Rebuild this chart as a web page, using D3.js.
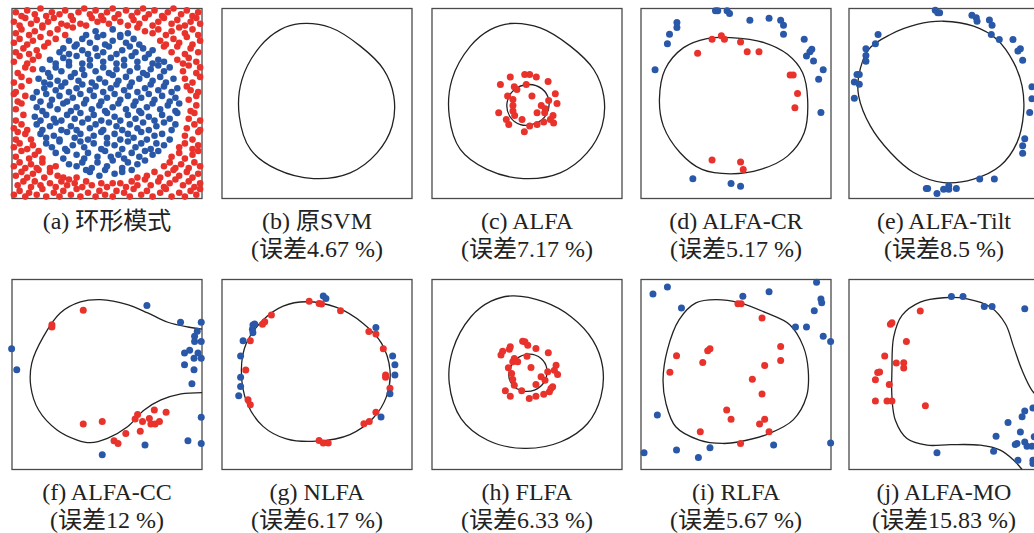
<!DOCTYPE html>
<html>
<head>
<meta charset="utf-8">
<script src="https://cdn.jsdelivr.net/npm/d3@7"></script>
<style>
body { margin: 0; background: #fff; }
svg text { font-family: "Liberation Serif", "Noto Sans CJK SC", serif; font-size: 24px; fill: #222; }
</style>
</head>
<body>
<svg width="1034" height="533"></svg>
<script>
// all coords are 0..100 inside each panel, y pointing up

// (a) ring pattern: red outside, blue inside
const aRed = [
  1,2, 4,4, 7,1, 9,3, 13,2, 16,5, 18,1, 22,3, 25,1, 27,4, 31,2, 34,5, 36,1, 40,3, 44,1, 46,4, 49,2, 53,1, 55,4, 59,3, 62,1, 64,5, 68,2, 71,4, 74,1, 78,3, 81,5, 84,1, 88,3, 91,1, 94,4, 97,2, 99,5,
  3,7, 6,9, 10,6, 12,9, 15,7, 20,8, 23,6, 26,9, 29,7, 33,8, 37,6, 39,9, 42,7, 47,8, 50,6, 53,8, 57,8, 60,6, 63,9, 66,7, 70,10, 73,7, 77,9, 80,6, 83,8, 86,10, 90,7, 93,9, 96,6, 99,8,
  2,12, 5,14, 8,11, 11,13, 14,15, 17,11, 20,14, 24,12, 27,11, 30,10, 34,11, 66,11, 71,12, 75,14, 78,11, 82,13, 85,15, 88,12, 92,14, 95,11, 98,13,
  1,17, 4,19, 7,16, 10,18, 13,16, 16,19, 20,16, 23,17, 80,17, 83,19, 86,16, 89,18, 93,16, 96,19, 99,17,
  2,22, 5,25, 9,21, 12,23, 16,21, 84,22, 88,24, 91,21, 95,23, 98,25,
  1,27, 4,29, 8,26, 11,28, 14,25, 88,27, 91,29, 95,26, 98,28,
  2,31, 7,34, 10,31, 3,35, 91,33, 95,31, 98,35,
  1,37, 5,39, 8,36, 92,37, 96,39, 99,36,
  2,41, 6,44, 93,42, 96,45, 99,41,
  2,47, 5,50, 94,46, 97,49,
  3,51, 7,54, 1,55, 93,52, 97,54,
  2,56, 5,59, 94,57, 98,56, 92,59,
  1,61, 5,64, 9,62, 91,63, 95,61, 99,64,
  3,66, 7,69, 11,68, 90,67, 93,70, 97,66, 99,69,
  1,72, 4,75, 8,71, 11,73, 14,75, 87,73, 90,71, 93,74, 97,72,
  2,77, 6,79, 9,76, 13,78, 17,80, 80,80, 84,77, 87,80, 91,76, 94,79, 98,77,
  1,82, 4,84, 8,81, 11,83, 15,85, 19,82, 23,84, 78,83, 81,81, 85,84, 88,82, 92,85, 95,81, 99,83,
  2,87, 5,89, 9,86, 12,88, 16,90, 20,87, 24,89, 28,86, 32,90, 66,90, 70,88, 74,87, 77,89, 81,86, 84,88, 88,90, 91,87, 95,89, 98,86,
  1,93, 4,91, 7,95, 10,92, 13,94, 16,91, 19,93, 22,95, 26,92, 29,91, 32,94, 36,92, 39,91, 42,95, 45,93, 48,94, 51,92, 54,95, 57,93, 61,91, 64,94, 67,92, 70,95, 74,91, 77,93, 80,95, 84,92, 87,94, 91,91, 94,93, 97,95, 99,92,
  2,98, 5,96, 8,99, 12,97, 15,100, 18,96, 21,98, 25,97, 28,99, 31,96, 35,98, 38,100, 41,97, 44,99, 47,96, 50,98, 53,100, 56,97, 60,99, 63,96, 66,98, 69,100, 72,97, 75,99, 79,96, 82,98, 85,100, 89,97, 92,99, 95,96, 98,98
];
const aBlue = [
  41,14, 46,12, 49,15, 54,13, 58,14, 63,15,
  30,18, 34,17, 37,19, 39,15, 42,16, 45,19, 50,17, 53,20, 58,16, 61,19, 66,18, 70,20,
  23,24, 27,21, 29,25, 34,23, 38,21, 40,24, 45,22, 49,25, 52,22, 56,23, 59,21, 63,24, 67,22, 70,25, 74,23, 77,25,
  18,29, 21,27, 25,30, 28,26, 32,28, 36,30, 38,27, 43,29, 47,26, 50,29, 54,28, 58,26, 61,30, 65,27, 68,29, 73,26, 76,29, 80,28,
  15,34, 18,32, 22,33, 25,31, 29,35, 33,32, 36,34, 40,31, 43,33, 47,35, 50,32, 54,34, 57,31, 61,34, 64,32, 68,35, 71,31, 75,33, 79,34, 83,31,
  13,39, 16,36, 20,38, 23,40, 26,36, 31,38, 34,36, 37,40, 41,37, 44,39, 48,36, 51,40, 55,38, 58,36, 62,39, 66,37, 69,40, 72,36, 76,38, 80,40, 84,36, 86,39,
  12,43, 15,41, 18,44, 22,42, 26,41, 29,44, 33,42, 36,45, 40,42, 43,44, 47,41, 50,45, 54,43, 57,41, 61,44, 65,42, 68,45, 72,43, 75,41, 79,44, 83,42, 87,45,
  13,48, 16,46, 20,49, 24,47, 27,50, 31,46, 34,48, 38,50, 42,47, 46,49, 49,46, 53,48, 56,50, 60,47, 64,49, 67,46, 71,48, 74,50, 78,47, 82,49, 86,46, 88,50,
  11,53, 15,51, 18,55, 21,52, 25,54, 29,51, 32,53, 36,55, 39,52, 43,54, 47,51, 50,53, 54,55, 57,52, 61,54, 65,51, 68,53, 72,55, 75,52, 79,54, 83,51, 86,53,
  13,56, 17,58, 20,60, 23,57, 26,59, 30,56, 34,58, 37,60, 41,57, 44,59, 48,56, 52,58, 55,60, 59,57, 62,59, 66,56, 70,58, 73,60, 77,57, 80,59, 84,56, 87,58,
  14,63, 17,61, 20,64, 24,62, 28,61, 31,64, 35,62, 38,65, 42,61, 46,63, 49,61, 53,65, 56,62, 60,64, 63,61, 67,63, 71,65, 74,62, 78,64, 81,61, 85,63,
  16,68, 19,66, 23,69, 26,67, 30,70, 33,66, 37,68, 41,70, 44,67, 48,69, 51,66, 55,68, 59,70, 62,67, 66,69, 69,66, 73,68, 77,70, 80,67, 83,69,
  20,73, 23,71, 27,74, 30,72, 34,75, 37,71, 41,73, 45,75, 48,72, 52,74, 55,71, 59,73, 63,75, 66,72, 70,74, 74,71, 77,73, 80,72,
  25,77, 27,79, 30,76, 33,80, 37,78, 40,76, 44,79, 48,77, 51,80, 55,76, 58,78, 62,80, 65,77, 69,79, 72,76, 74,78,
  30,83, 34,81, 37,84, 41,82, 45,85, 49,81, 53,83, 57,85, 60,82, 64,84, 67,81,
  39,86, 44,88, 48,86, 53,89, 57,86, 61,87
];

// (b) original SVM boundary
const bCurve = [41,92, 57,90, 72.8,80.2, 85,68, 90.4,54, 89.5,38, 81.6,24, 67.5,13.5, 48.2,10.5, 29,15.3, 15,25.8, 9.1,43.3, 10.5,62.6, 20.2,80.2, 30.7,88.9];

// (c) ALFA
const cRed = [36,60, 41.2,63.9, 48.8,65.3, 51.4,65.3, 54.9,63.9, 61.1,61.6, 43.3,58.8, 44.7,57.4, 49.6,60, 39.8,53.9, 42.6,52.1, 52.6,53.9, 64.9,55.1, 65.8,50, 61.4,51.6, 57.5,48.9, 59.6,47.2, 42.6,48.9, 42.6,46, 35.1,45.1, 43.5,43.7, 47.4,41.6, 39.1,41.6, 40.4,38.9, 55.3,45.1, 63.7,43.7, 62.3,41.6, 58.8,40.2, 55.3,38.9, 51.4,38.1, 48.6,35.1, 64,39.8, 59.3,45.1];
const cOuter = [41.2,92.1, 57,89.8, 72.8,80.2, 85.1,67.9, 90.4,53.9, 89.5,38.1, 81.6,24, 67.5,13.5, 48.2,10.5, 28.9,15.3, 14.9,25.8, 9.1,43.3, 10.5,62.6, 20.2,80.2, 30.7,88.9];
const cInner = [50.9,60, 57.9,57.7, 61.4,52.1, 60.2,44.2, 54.4,39.5, 46.5,38.9, 40.9,43.3, 39.5,50.4, 43,57];

// (d) ALFA-CR
const dRed = [37.4,83.8, 42.3,85.6, 43.9,83.8, 52.4,82.4, 29.8,76.4, 55.9,77.3, 62.1,77.3, 78.5,65, 80.1,65, 82.4,55.2, 81,47.8, 37.4,20.2, 52.4,19.2, 53.8,15.3];
const dBlue = [39.2,98.8, 40.4,98.8, 45.3,98.8, 46.6,97.4, 18.9,92.6, 18.9,90, 15,86.5, 13.9,81.5, 7.4,67.7, 57.3,93.8, 67.4,94.9, 73.5,93.8, 75,91.2, 75,86.5, 85.9,83.8, 89.9,78.6, 88.9,77.2, 87.1,75, 90.8,72.4, 95.9,67.7, 93.5,62.7, 94.7,45.2, 27.3,10.4, 47.4,7.9, 52.4,6.5];
const dCurve = [47.1,84.7, 64.7,82.1, 77.1,75.9, 85,66.3, 87.7,52.2, 85.9,34.6, 77.1,22.3, 63,15.3, 47.1,13, 32.1,15.3, 20.6,24.1, 11.8,38.1, 9.7,52.2, 12.7,68, 22.4,79.4, 34.7,84.2];

// (e) ALFA-Tilt
const eBlue = [45.4,99.1, 46.7,97.7, 47.7,97.7, 64.7,96.5, 67,95.1, 67.4,93.3, 73.9,93.9, 75.3,91.2, 74.9,86.3, 79.1,83.7, 86.3,83.7, 90.2,78.8, 88.9,77.6, 91.4,72.7, 15.3,86.3, 13.9,81.4, 8.9,78.8, 8.9,75.3, 8.9,72.3, 4.2,65.3, 5.4,65.3, 2.8,61.3, 5.4,60.1, 2.8,52.7, 96.3,58.8, 96.3,52.5, 95.1,45.2, 92.5,31.5, 91.4,27.7, 91.4,23.8, 68.8,10.2, 76.5,10.2, 40.7,5.3, 41.4,5.3, 46.3,2.6, 49.8,4.9, 52.5,6.7, 52.5,4.9, 56.5,5.3];
const eCurve = [49.8,93.3, 65.6,90.7, 77.9,83.7, 86.7,71.5, 91.1,59.2, 91.9,45.2, 88.4,29.4, 79.6,17.2, 65.6,10.2, 49.8,8.4, 34,13.7, 21.8,24.2, 11.2,38.2, 5.1,53.9, 5.1,64.4, 10.4,78.5, 21.8,86.3, 35.8,91.6];

// (f) ALFA-CC, boundary leaves through the right edge
const fRed = [37.5,83.8, 21,76.2, 21,75, 37.5,23.9, 47.5,25.2, 53.7,15.1, 55.8,13.7, 59.9,19, 67.5,20.1, 64.8,26.6, 66.1,29, 68.7,25.2, 72.3,26.9, 74.9,31.3, 73.1,23.9, 75.3,23.9, 77.6,25.2, 81.1,30.1];
const fBlue = [71,86.3, 88.7,77.5, 99.6,77.5, 97.5,72.7, 96.1,70.1, 96.1,67.4, 99.6,67.4, 93.5,62.7, 90.8,61.3, 97.9,61.3, 99.6,58.6, 95.8,58.6, 90.8,55.1, 95.8,52.5, 94.7,45.1, 99.6,27.5, 99.6,13.7, 92.6,15.1, 70,12.9, 47.5,7.7, -0.2,63.6, 2.5,52.5];
const fCurve = [100,73.9, 92.6,75, 82,77.5, 71.4,82.4, 60.8,86.8, 46.6,89.4, 36,88.2, 25.4,82.4, 16.6,70.1, 10.4,56, 9.9,43.7, 14,31.3, 23.7,20.8, 34.3,15.5, 41.3,14.1, 50.2,16.4, 60.8,22.5, 69.6,31.3, 78.4,36.6, 89,39.8, 100,40.5];

// (g) NLFA
const gRed = [45.9,88.6, 51.1,87.4, 52.4,87.1, 62.4,83.6, 26,81.3, 22.5,77.8, 21.3,76.4, 14.9,67.7, 12.5,52.4, 13.7,36.7, 14.9,34.1, 77.3,72.6, 81,71.3, 84.9,63.5, 86.1,49.8, 86.1,48.6, 88.4,42.8, 81,30.1, 77.5,25.3, 74.7,24.1, 51.1,15.2, 53.3,14, 55.9,14];
const gBlue = [53.3,91.3, 54.7,90, 81,74.8, 16.3,76, 17.2,76.6, 16,73.8, 16.3,72, 11.1,67.7, 9.8,59.8, 9.8,48.6, 9.8,43.7, 8.8,38.8, 89.8,59.8, 91,55.1, 91,49.8, 88.4,39.9, 83.7,27.6];
const gCurve = [44.5,88.3, 60.3,85.3, 74.3,76.9, 84,66.4, 88.4,52.4, 86.6,38.5, 79.6,27.1, 67.3,18.4, 49.7,14.9, 33.9,16.1, 21.6,22.7, 13.2,35, 10.2,52.4, 12.8,66.4, 21.6,78.7, 32.2,86];

// (h) FLFA
const hRed = [36.3,60.2, 37.2,62.3, 41.2,64.6, 40.7,63.3, 47.7,67.5, 48.9,67.2, 50.4,65.4, 54.7,63.7, 61.2,61.4, 43.3,58.4, 42.5,56.7, 45.1,56.7, 50,59.6, 40.2,53.5, 52.1,53.7, 65.3,54.9, 64.4,52.3, 66.1,50, 60.9,51.4, 57.4,48.8, 59.5,47, 41.9,50.5, 42.5,47.4, 43.3,44.4, 38.6,41.4, 41.2,38.6, 47.2,41.4, 54.7,44.7, 63.5,43.5, 61.8,40.9, 58.8,39.6, 54.7,38.6, 51.2,37.4, 62.6,42.6];
const hOuter = [42.5,91.4, 59.1,88.2, 73.2,80.4, 84.6,68.1, 89.8,54, 88.9,38.2, 81.9,24.2, 67.9,14.6, 48.6,11.1, 29.3,15.4, 15.3,26.8, 9.1,45.3, 10.9,62.8, 20.5,80.4, 31.1,88.6];
const hInner = [51.2,60.7, 57.4,58.4, 60.4,53.2, 59.1,46.1, 53.9,41.8, 47.7,41.4, 42.5,44.4, 40.4,50.5, 44.2,57.9];

// (i) RLFA
const iRed = [51,87.3, 52.7,87.3, 63.7,79.8, 73.5,64.8, 73.5,57.4, 36.3,63.6, 35.1,62.5, 32.5,56.3, 18.7,59.9, 15.2,51.2, 65.1,54.8, 58.6,47.5, 63.7,39.8, 45.1,31.3, 47.4,26.4, 65.1,26.4, 62.4,23.9, 67.4,19.9, 31.2,19.9, 52.4,13.7];
const iBlue = [92.4,98.6, 6.3,92.4, 13.9,96.1, 53.6,91.2, 67.4,93.5, 21.3,85, 94.7,89.8, 95.1,87.7, 91.2,83.6, 81.3,75, 87.1,75, 95.9,70.1, 99.8,67.4, 8.6,28.7, 1.6,8.8, 18.7,10.2, 30.2,6.3, 36.3,11.4, 69.8,12.9, 99.8,13.9];
const iCurve = [39.5,89.4, 51.9,87.7, 66,82.4, 78.3,76.2, 85.4,64.8, 88,52.5, 87.1,38.4, 80.1,26.1, 67.7,19, 51.9,14.6, 43,13.7, 30.7,15.5, 18.3,22.5, 13.1,34.9, 11.6,47.2, 13.9,63, 20.1,78.9, 28.9,87.7];

// (j) ALFA-MO, boundary runs off the bottom and right
const jRed = [37.5,83.4, 21.8,76.4, 22.6,77.2, 30.2,67.4, 18.8,59.7, 24.9,56, 28.8,56.2, 28.8,53.4, 15.1,51, 16.1,51.3, 13.9,47.3, 21.2,44.7, 13.9,36.1, 20,36.1, 22.6,36.1, 40.2,33.5];
const jBlue = [53.9,91.1, 60,91.1, 71.2,85.8, 75.3,85.8, 92.5,84.6, 92.5,30.8, 96.8,32.4, 91.1,27.7, 83.7,24.7, 90.2,19.8, 77.4,17.5, 88.4,13.7, 87.5,13.1, 92.5,14.5, 93.7,12.3, 96.3,12.3, 97.5,17.2, 76.1,9.6, 88.9,4.9, 96.8,4.9, 96.8,3.2, 46.3,8.8];
const jCurve = [91.1,0, 86.7,4.9, 79.6,10.2, 69.1,12.8, 53.3,13.1, 41.1,12.8, 30.5,16.3, 24.4,25.9, 22.6,38.2, 22.6,52.2, 23.5,69.7, 27.9,81.1, 37.5,88.1, 49.8,90.4, 62.1,89.8, 74.4,85.5, 82.3,76.7, 86.7,64.4, 91.1,52.2, 96.3,41.7, 100.7,37.3, 106,35.5];

const titles = ['(a) 环形模式', '(b) 原SVM', '(c) ALFA', '(d) ALFA-CR', '(e) ALFA-Tilt',
                '(f) ALFA-CC', '(g) NLFA', '(h) FLFA', '(i) RLFA', '(j) ALFA-MO'];
const errors = ['', '(误差4.67 %)', '(误差7.17 %)', '(误差5.17 %)', '(误差8.5 %)',
                '(误差12 %)', '(误差6.17 %)', '(误差6.33 %)', '(误差5.67 %)', '(误差15.83 %)'];


const svg = d3.select('svg');
const RED = '#e8322b', BLUE = '#2a58a8';
const size = 190;
const colX = [12, 222, 432, 641, 849];
const rowY = [8.5, 279.5];

const pairs = a => d3.range(0, a.length, 2).map(i => [a[i], a[i + 1]]);

const panels = [
  {red: aRed, blue: aBlue, curves: [], r: 3.3},
  {red: [], blue: [], curves: [{pts: bCurve, closed: true}]},
  {red: cRed, blue: [], curves: [{pts: cOuter, closed: true}, {pts: cInner, closed: true}]},
  {red: dRed, blue: dBlue, curves: [{pts: dCurve, closed: true}]},
  {red: [], blue: eBlue, curves: [{pts: eCurve, closed: true}]},
  {red: fRed, blue: fBlue, curves: [{pts: fCurve, closed: false}]},
  {red: gRed, blue: gBlue, curves: [{pts: gCurve, closed: true}]},
  {red: hRed, blue: [], curves: [{pts: hOuter, closed: true}, {pts: hInner, closed: true}]},
  {red: iRed, blue: iBlue, curves: [{pts: iCurve, closed: true}]},
  {red: jRed, blue: jBlue, curves: [{pts: jCurve, closed: false}]}
];

panels.forEach((p, i) => {
  const row = Math.floor(i / 5), col = i % 5;
  const x0 = colX[col], y0 = rowY[row];
  const x = d3.scaleLinear().domain([0, 100]).range([x0, x0 + size]);
  const y = d3.scaleLinear().domain([0, 100]).range([y0 + size, y0]);
  const g = svg.append('g');

  g.append('clipPath').attr('id', 'clip' + i)
    .append('rect').attr('x', x0).attr('y', y0).attr('width', size).attr('height', size);

  g.append('rect')
    .attr('x', x0).attr('y', y0).attr('width', size).attr('height', size)
    .attr('fill', 'none').attr('stroke', '#4a4a4a').attr('stroke-width', 1.3);

  p.curves.forEach(c => {
    const line = d3.line()
      .x(d => x(d[0])).y(d => y(d[1]))
      .curve(c.closed ? d3.curveCatmullRomClosed.alpha(0.5) : d3.curveCatmullRom.alpha(0.5));
    g.append('path')
      .attr('d', line(pairs(c.pts)))
      .attr('clip-path', 'url(#clip' + i + ')')
      .attr('fill', 'none').attr('stroke', '#222').attr('stroke-width', 1.3);
  });

  const r = p.r || 3.5;
  g.selectAll('circle.red').data(pairs(p.red)).enter()
    .append('circle').attr('class', 'red')
    .attr('cx', d => x(d[0])).attr('cy', d => y(d[1])).attr('r', r).attr('fill', RED);
  g.selectAll('circle.blue').data(pairs(p.blue)).enter()
    .append('circle').attr('class', 'blue')
    .attr('cx', d => x(d[0])).attr('cy', d => y(d[1])).attr('r', r).attr('fill', BLUE);

  // labels under the panel
  const cx = x0 + size / 2, base = y0 + size + 30;
  g.append('text')
    .attr('x', cx).attr('y', base)
    .attr('text-anchor', 'middle').text(titles[i]);
  if (errors[i]) {
    g.append('text')
      .attr('x', cx).attr('y', base + 28)
      .attr('text-anchor', 'middle').text(errors[i]);
  }
});
</script>
</body>
</html>
